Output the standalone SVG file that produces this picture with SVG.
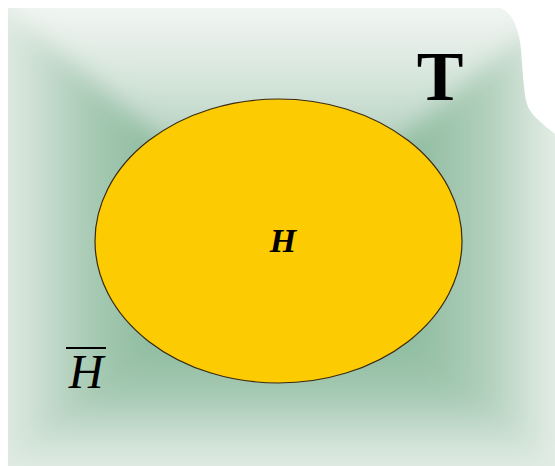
<svg xmlns="http://www.w3.org/2000/svg" width="555" height="466" viewBox="0 0 555 466">
  <defs>
    <clipPath id="outline">
      <path d="M8,8 L500,8 C512,12 519,28 521,50 C523,75 524,95 527,104 C530,114 540,122 555,134 L555,466 L8,466 Z"/>
    </clipPath>
    <filter id="soft" x="-20%" y="-20%" width="140%" height="140%">
      <feGaussianBlur stdDeviation="12"/>
    </filter>
    <linearGradient id="gTop" gradientUnits="userSpaceOnUse" x1="0" y1="8" x2="0" y2="237">
      <stop offset="0" stop-color="#F2F6F3"/>
      <stop offset="0.2" stop-color="#E0EBE4"/>
      <stop offset="0.4" stop-color="#CDE0D4"/>
      <stop offset="0.55" stop-color="#B8D3C2"/>
      <stop offset="0.75" stop-color="#9DC4AC"/>
      <stop offset="1" stop-color="#82B495"/>
    </linearGradient>
    <linearGradient id="gBottom" gradientUnits="userSpaceOnUse" x1="0" y1="466" x2="0" y2="237">
      <stop offset="0" stop-color="#E0EBE4"/>
      <stop offset="0.12" stop-color="#CDE0D4"/>
      <stop offset="0.3" stop-color="#A7CAB4"/>
      <stop offset="0.5" stop-color="#91BEA2"/>
      <stop offset="1" stop-color="#7CB191"/>
    </linearGradient>
    <linearGradient id="gLeft" gradientUnits="userSpaceOnUse" x1="8" y1="0" x2="281" y2="0">
      <stop offset="0" stop-color="#DEE9E2"/>
      <stop offset="0.12" stop-color="#C9DDD0"/>
      <stop offset="0.19" stop-color="#BBD5C4"/>
      <stop offset="0.3" stop-color="#A8CAB4"/>
      <stop offset="0.5" stop-color="#91BEA2"/>
      <stop offset="1" stop-color="#7CB191"/>
    </linearGradient>
    <linearGradient id="gRight" gradientUnits="userSpaceOnUse" x1="555" y1="0" x2="281" y2="0">
      <stop offset="0" stop-color="#E3EDE6"/>
      <stop offset="0.12" stop-color="#CCDFD2"/>
      <stop offset="0.25" stop-color="#B0CFBA"/>
      <stop offset="0.5" stop-color="#91BEA2"/>
      <stop offset="1" stop-color="#7CB191"/>
    </linearGradient>
    <style>
      .serif { font-family: "Liberation Serif", "Times New Roman", serif; fill: #000; }
    </style>
  </defs>
  <rect width="555" height="466" fill="#FFFFFF"/>
  <g id="universe" clip-path="url(#outline)">
    <g filter="url(#soft)">
      <polygon points="-33,-26 596,-26 281,237" fill="url(#gTop)"/>
      <polygon points="-33,500 596,500 281,237" fill="url(#gBottom)"/>
      <polygon points="-33,-26 -33,500 281,237" fill="url(#gLeft)"/>
      <polygon points="596,-26 596,500 281,237" fill="url(#gRight)"/>
    </g>
  </g>
  <g id="label-T">
    <text class="serif" x="440" y="100" font-size="70" font-weight="bold" text-anchor="middle">T</text>
  </g>
  <g id="set-H">
    <ellipse cx="278.5" cy="241" rx="183.5" ry="142" fill="#FDCB02" stroke="#3A2A10" stroke-width="1.2"/>
    <text class="serif" x="283" y="252" font-size="34" font-weight="bold" font-style="italic" text-anchor="middle">H</text>
  </g>
  <g id="complement-H">
    <line x1="66" y1="348" x2="106" y2="348" stroke="#000" stroke-width="1.8"/>
    <text class="serif" x="86" y="388" font-size="48" font-style="italic" text-anchor="middle">H</text>
  </g>
</svg>
